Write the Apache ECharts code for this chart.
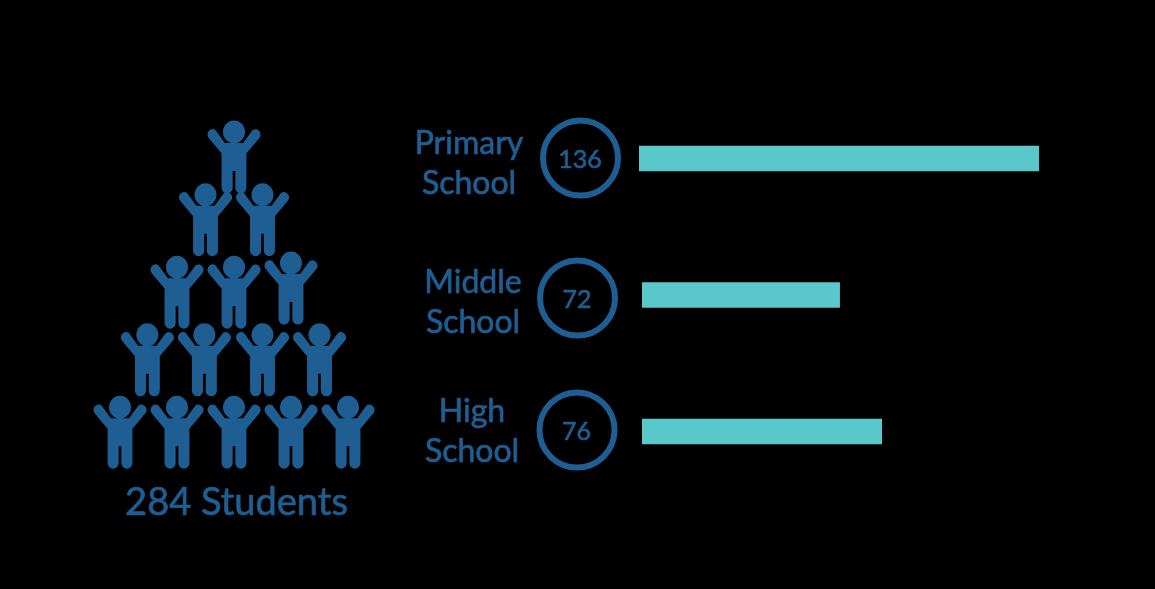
<!DOCTYPE html>
<html><head><meta charset="utf-8">
<style>html,body{margin:0;padding:0;background:#000}#c{width:1155px;height:589px}</style>
<script src="https://cdn.jsdelivr.net/npm/echarts@6/dist/echarts.min.js"></script>
</head><body><div id="c"></div>
<script>
// Data
const categories = ['Primary\nSchool', 'Middle\nSchool', 'High\nSchool'];
const studentCounts = [136, 72, 76];
// The reference's bars are not drawn proportionally to their printed counts;
// these are the lengths, on the scale of the primary bar = 136.
const drawnBarLengths = [136, 67.3, 81.6];
const totalLabel = '284 Students';
// One figure per position: column (figure widths from centre) and row (figure heights from top)
const personCols = [0, -0.5, 0.5, -1, 0, 1, -1.52, -0.52, 0.5, 1.5, -2, -1, 0, 1, 2];
const personRows = [0, 0.91, 0.91, 1.96, 1.96, 1.9, 2.94, 2.94, 2.94, 2.94, 3.99, 3.99, 3.99, 3.99, 3.99];

// Layout and style
const NAVY = '#1F5E92', TEAL = '#5AC7CA', FONT = 'Lato';
const barLeft = [639, 642, 642], barMidY = [158.5, 295, 431.5];
const ringCx = [580.5, 577.5, 577], ringCy = [158, 298, 430];
const labelCx = [469, 473, 472], labelCy = [164, 303, 432];
const pxPerUnit = 400 / 136;
const person = 'path://M-19.5 9.5L-9.5 22.5L9.5 22.5L19.5 9.5A5.4 5.4 0 0 1 26.5 17.5L13 33L13 67.5A5.8 5.8 0 0 1 1.4 67.5L1.4 50.7L-1.4 50.7L-1.4 67.5A5.8 5.8 0 0 1 -13 67.5L-13 33L-26.5 17.5A5.4 5.4 0 0 1 -19.5 9.5Z' +
  'M-11.5 11.5A11.5 11.5 0 1 1 11.5 11.5A11.5 11.5 0 1 1 -11.5 11.5Z';

const grids = [{ left: 91.5, top: 122.5, width: 285, height: 345 }];
const xAxes = [{ type: 'value', gridIndex: 0, min: -2.5, max: 2.5, show: false }];
const yAxes = [{ type: 'value', gridIndex: 0, min: -0.5, max: 4.5, inverse: true, show: false }];
const series = [{
  type: 'scatter', xAxisIndex: 0, yAxisIndex: 0, symbol: person, symbolSize: [53, 73], silent: true,
  itemStyle: { color: NAVY, opacity: 1 },
  data: personCols.map((c, i) => [c, personRows[i]])
}];
categories.forEach((name, i) => {
  const g = i + 1;
  grids.push({ left: barLeft[i], top: barMidY[i] - 13, width: 1155 - barLeft[i] - 20, height: 26 });
  xAxes.push({ type: 'value', gridIndex: g, min: 0, max: (1155 - barLeft[i] - 20) / pxPerUnit, show: false });
  yAxes.push({ type: 'category', gridIndex: g, data: [name], show: false });
  series.push({
    type: 'bar', name, xAxisIndex: g, yAxisIndex: g, barWidth: 25.5, silent: true,
    itemStyle: { color: TEAL }, data: [drawnBarLengths[i]]
  });
});

const graphic = [];
const textStyle = (text, size, extra) => Object.assign({
  text, fill: NAVY, font: size + 'px ' + FONT, stroke: NAVY, lineWidth: 0.7,
  align: 'center', verticalAlign: 'middle'
}, extra || {});
categories.forEach((name, i) => {
  graphic.push({
    type: 'circle', shape: { cx: ringCx[i], cy: ringCy[i], r: 37.5 },
    style: { fill: 'transparent', stroke: NAVY, lineWidth: 6 }, silent: true
  });
  graphic.push({
    type: 'text', x: ringCx[i] - 0.5, y: ringCy[i] + 2, silent: true,
    style: textStyle(String(studentCounts[i]), 25)
  });
  graphic.push({
    type: 'text', x: labelCx[i], y: labelCy[i], silent: true,
    style: textStyle(name, 32, { lineHeight: 40 })
  });
});
graphic.push({
  type: 'text', x: 236.5, y: 503, silent: true,
  style: textStyle(totalLabel, 38)
});

const chart = echarts.init(document.getElementById('c'), null, { renderer: 'canvas' });
chart.setOption({
  backgroundColor: '#000', animation: false, tooltip: { show: false },
  grid: grids, xAxis: xAxes, yAxis: yAxes, series, graphic
});
</script></body></html>
